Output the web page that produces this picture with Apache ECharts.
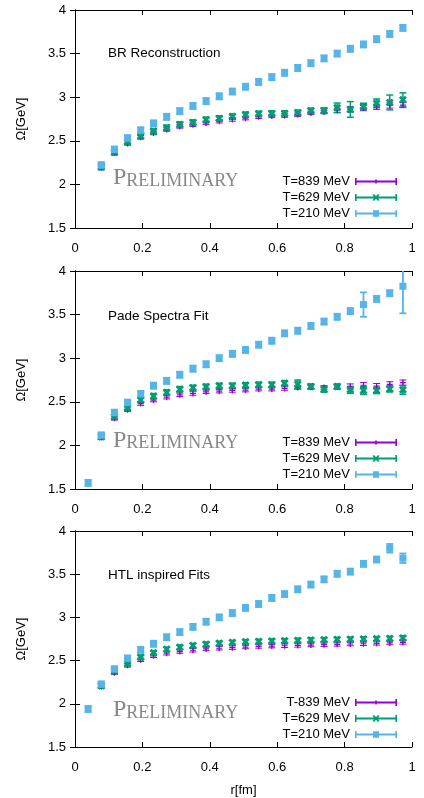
<!DOCTYPE html>
<html>
<head>
<meta charset="utf-8">
<script src="https://cdn.jsdelivr.net/npm/echarts@6/dist/echarts.min.js"></script>
<style>
html,body{margin:0;padding:0;background:#fff;}
#chart{width:424px;height:798px;}
</style>
</head>
<body>
<div id="chart"></div>
<script>
// ---- data ----
const r = [0.039,0.078,0.117,0.156,0.195,0.233,0.272,0.311,0.350,0.389,0.428,0.467,0.506,0.545,0.584,0.622,0.661,0.700,0.739,0.778,0.817,0.856,0.895,0.934,0.973];

const panelTitles = ['BR Reconstruction', 'Pade Spectra Fit', 'HTL inspired Fits'];
const seriesNames = [
  ['T=839 MeV', 'T=629 MeV', 'T=210 MeV'],
  ['T=839 MeV', 'T=629 MeV', 'T=210 MeV'],
  ['T-839 MeV', 'T=629 MeV', 'T=210 MeV']
];
const xTicks = [0, 0.2, 0.4, 0.6, 0.8, 1];
const yTicks = [1.5, 2, 2.5, 3, 3.5, 4];

// BR Reconstruction
const br839 = [null,2.19,2.36,2.47,2.54,2.59,2.63,2.665,2.685,2.705,2.725,2.745,2.76,2.775,2.785,2.79,2.80,2.82,2.83,2.85,2.86,2.875,2.89,2.905,2.91];
const br839err = [null,0.02,0.02,0.02,0.02,0.02,0.02,0.02,0.02,0.02,0.02,0.02,0.02,0.02,0.02,0.02,0.02,0.02,0.02,0.025,0.03,0.03,0.03,0.03,0.03];
const br629 = [null,2.20,2.37,2.49,2.555,2.61,2.65,2.688,2.71,2.742,2.757,2.778,2.80,2.81,2.814,2.814,2.822,2.845,2.848,2.878,2.86,2.895,2.93,2.94,2.97];
const br629err = [null,0.03,0.03,0.03,0.03,0.03,0.03,0.03,0.03,0.03,0.03,0.03,0.03,0.03,0.03,0.03,0.03,0.03,0.03,0.055,0.09,0.035,0.05,0.085,0.08];
const br210 = [null,2.22,2.40,2.53,2.62,2.70,2.775,2.84,2.90,2.955,3.01,3.065,3.12,3.175,3.23,3.28,3.335,3.39,3.445,3.50,3.555,3.605,3.665,3.725,3.795];
const br210err = [null,0.035,0.035,0.035,0.035,0.035,0.035,0.035,0.035,0.035,0.035,0.035,0.035,0.035,0.035,0.035,0.035,0.035,0.035,0.035,0.035,0.035,0.035,0.035,0.035];

// Pade Spectra Fit
const pd839 = [null,2.09,2.31,2.41,2.48,2.52,2.553,2.58,2.595,2.614,2.622,2.63,2.634,2.645,2.645,2.653,2.664,2.67,2.665,2.672,2.675,2.69,2.68,2.70,2.72];
const pd839err = [null,0.02,0.02,0.02,0.02,0.02,0.02,0.02,0.02,0.02,0.02,0.02,0.02,0.02,0.02,0.02,0.02,0.02,0.02,0.02,0.03,0.03,0.03,0.03,0.03];
const pd629 = [null,2.10,2.33,2.43,2.52,2.565,2.607,2.645,2.66,2.672,2.683,2.683,2.69,2.695,2.695,2.713,2.70,2.675,2.645,2.675,2.637,2.63,2.63,2.648,2.637];
const pd629err = [null,0.03,0.03,0.03,0.03,0.03,0.03,0.03,0.03,0.03,0.03,0.03,0.03,0.03,0.03,0.03,0.05,0.03,0.035,0.03,0.04,0.045,0.035,0.035,0.05];
const pd210 = [1.57,2.115,2.375,2.49,2.59,2.685,2.74,2.81,2.88,2.93,3.0,3.05,3.095,3.155,3.20,3.285,3.315,3.37,3.42,3.475,3.54,3.615,3.68,3.745,3.825];
const pd210err = [0.035,0.035,0.035,0.035,0.035,0.035,0.035,0.035,0.035,0.035,0.035,0.035,0.035,0.035,0.035,0.035,0.035,0.035,0.035,0.035,0.035,0.14,0.035,0.035,0.31];

// HTL inspired Fits
const htl839 = [null,2.20,2.36,2.445,2.51,2.555,2.585,2.605,2.62,2.635,2.643,2.65,2.657,2.664,2.668,2.672,2.676,2.68,2.684,2.688,2.692,2.695,2.70,2.704,2.71];
const htl839err = [null,0.02,0.02,0.02,0.02,0.02,0.02,0.02,0.02,0.02,0.02,0.02,0.02,0.02,0.02,0.02,0.02,0.02,0.02,0.02,0.02,0.02,0.02,0.02,0.02];
const htl629 = [null,2.21,2.38,2.465,2.54,2.59,2.63,2.655,2.675,2.69,2.70,2.71,2.718,2.722,2.726,2.73,2.734,2.738,2.742,2.745,2.747,2.75,2.753,2.757,2.763];
const htl629err = [null,0.025,0.025,0.025,0.025,0.025,0.025,0.025,0.025,0.025,0.025,0.025,0.025,0.025,0.025,0.025,0.025,0.025,0.025,0.025,0.025,0.025,0.025,0.025,0.025];
const htl210 = [1.94,2.225,2.40,2.525,2.625,2.695,2.77,2.83,2.89,2.95,3.0,3.05,3.11,3.155,3.225,3.27,3.325,3.38,3.44,3.505,3.53,3.62,3.67,3.80,3.685];
const htl210err = [0.035,0.035,0.035,0.035,0.035,0.035,0.035,0.035,0.035,0.035,0.035,0.035,0.035,0.035,0.035,0.035,0.035,0.035,0.035,0.035,0.035,0.035,0.035,0.05,0.055];

const panels = [
  [[br839, br839err], [br629, br629err], [br210, br210err]],
  [[pd839, pd839err], [pd629, pd629err], [pd210, pd210err]],
  [[htl839, htl839err], [htl629, htl629err], [htl210, htl210err]]
];

// ---- styles / layout ----
const colors = ['#9400d3', '#009e73', '#56b4e9'];
const plusPath = 'path://M4,0H6V4H10V6H6V10H4V6H0V4H4Z';
const xPath = 'path://M0,2.5L2.5,0L5,2.5L7.5,0L10,2.5L7.5,5L10,7.5L7.5,10L5,7.5L2.5,10L0,7.5L2.5,5Z';
const symbols = [plusPath, xPath, 'rect'];
const symbolSizes = [6, 8, 7];
const errWidth = [1, 1.5, 1.8];
const legendIcons = [
  'path://M0,0H1.6V7H0Z M0,2.6H42V4.4H0Z M40.4,0H42V7H40.4Z M20.2,1.5H21.8V5.5H20.2Z',
  'path://M0,0H1.6V7H0Z M0,2.6H42V4.4H0Z M40.4,0H42V7H40.4Z M17.5,1L19,0L24.5,6L23,7Z M23,0L24.5,1L19,7L17.5,6Z',
  'path://M0,0H1.6V7H0Z M0,2.6H42V4.4H0Z M40.4,0H42V7H40.4Z M18,0.3H24V6.7H18Z'
];

const gridTops = [10, 271, 531];
const gridH = 218;
const legendOffset = 164;
const titleOffsets = [36, 38.5, 37];
const prelimOffsets = [156, 157.5, 167];
const FONT = 'Liberation Sans, Arial, Helvetica, sans-serif';

function errRenderer(color, lw, cap) {
  return function (params, api) {
    const x = api.value(0), lo = api.value(1), hi = api.value(2);
    const a = api.coord([x, lo]);
    const b = api.coord([x, hi]);
    const st = { stroke: color, lineWidth: lw };
    return {
      type: 'group',
      children: [
        { type: 'line', shape: { x1: a[0], y1: a[1], x2: b[0], y2: b[1] }, style: st },
        { type: 'line', shape: { x1: a[0] - cap, y1: a[1], x2: a[0] + cap, y2: a[1] }, style: st },
        { type: 'line', shape: { x1: b[0] - cap, y1: b[1], x2: b[0] + cap, y2: b[1] }, style: st }
      ]
    };
  };
}

const grid = [], xAxis = [], yAxis = [], series = [], legend = [], graphic = [];

panels.forEach(function (panel, p) {
  grid.push({ left: 75, right: 12, top: gridTops[p], height: gridH, containLabel: false });
  const axisLine = { show: true, lineStyle: { color: '#000', width: 1 } };
  const tick = { show: true, inside: true, length: 5, lineStyle: { color: '#000', width: 1 } };
  xAxis.push({
    gridIndex: p, type: 'value', position: 'bottom', min: xTicks[0], max: xTicks[xTicks.length - 1],
    interval: xTicks[1] - xTicks[0], axisLine: axisLine, axisTick: tick, splitLine: { show: false },
    axisLabel: { color: '#000', fontSize: 13, fontFamily: FONT, margin: 14 },
    name: p === 2 ? 'r[fm]' : '', nameLocation: 'middle', nameGap: 37,
    nameTextStyle: { color: '#000', fontSize: 13, fontFamily: FONT }
  });
  xAxis.push({
    gridIndex: p, type: 'value', position: 'top', min: xTicks[0], max: xTicks[xTicks.length - 1],
    interval: xTicks[1] - xTicks[0], axisLine: axisLine, axisTick: tick, splitLine: { show: false },
    axisLabel: { show: false }
  });
  yAxis.push({
    gridIndex: p, type: 'value', position: 'left', min: yTicks[0], max: yTicks[yTicks.length - 1],
    interval: yTicks[1] - yTicks[0], axisLine: axisLine, axisTick: tick, splitLine: { show: false },
    axisLabel: { color: '#000', fontSize: 13, fontFamily: FONT, margin: 9 },
    name: 'Ω[GeV]', nameLocation: 'middle', nameGap: 47,
    nameTextStyle: { color: '#000', fontSize: 13, fontFamily: FONT }
  });
  yAxis.push({
    gridIndex: p, type: 'value', position: 'right', min: yTicks[0], max: yTicks[yTicks.length - 1],
    interval: yTicks[1] - yTicks[0], axisLine: axisLine, axisTick: tick, splitLine: { show: false },
    axisLabel: { show: false }
  });

  panel.forEach(function (pair, s) {
    const vals = pair[0], errs = pair[1];
    const pts = [], bars = [];
    for (let k = 0; k < r.length; k++) {
      if (vals[k] == null) continue;
      pts.push([r[k], vals[k]]);
      bars.push([r[k], vals[k] - errs[k], vals[k] + errs[k]]);
    }
    series.push({
      type: 'custom', name: 'err' + p + s, coordinateSystem: 'cartesian2d',
      xAxisIndex: 2 * p, yAxisIndex: 2 * p, clip: true, silent: true,
      renderItem: errRenderer(colors[s], errWidth[s], 3.5),
      encode: { x: 0, y: [1, 2] }, data: bars, itemStyle: { color: colors[s] }
    });
    series.push({
      type: 'scatter', name: seriesNames[p][s], xAxisIndex: 2 * p, yAxisIndex: 2 * p,
      symbol: symbols[s], symbolSize: symbolSizes[s], silent: true, clip: true,
      itemStyle: { color: colors[s], opacity: 1 }, data: pts
    });
  });

  legend.push({
    orient: 'vertical', right: 27, top: gridTops[p] + legendOffset + 1, align: 'right', padding: 0,
    itemWidth: 42, itemHeight: 7, itemGap: 3, selectedMode: false,
    textStyle: { color: '#000', fontSize: 13, fontFamily: FONT },
    itemStyle: { borderWidth: 0 },
    data: seriesNames[p].map(function (n, s) { return { name: n, icon: legendIcons[s] }; })
  });

  graphic.push({
    type: 'text', left: 108, top: gridTops[p] + titleOffsets[p], silent: true,
    style: { text: panelTitles[p], fill: '#000', font: '13.5px ' + FONT }
  });
  graphic.push({
    type: 'text', left: 113, top: gridTops[p] + prelimOffsets[p], silent: true,
    style: {
      text: '{a|P}{b|RELIMINARY}',
      rich: {
        a: { fontSize: 24, fontFamily: 'Liberation Serif, DejaVu Serif, serif', fill: '#888', verticalAlign: 'bottom', lineHeight: 24 },
        b: { fontSize: 18, fontFamily: 'Liberation Serif, DejaVu Serif, serif', fill: '#888', verticalAlign: 'bottom', lineHeight: 24 }
      }
    }
  });
});

const chart = echarts.init(document.getElementById('chart'), null, { renderer: 'canvas' });
chart.setOption({
  animation: false,
  backgroundColor: '#fff',
  grid: grid, xAxis: xAxis, yAxis: yAxis, series: series, legend: legend, graphic: graphic
});
</script>
</body>
</html>
